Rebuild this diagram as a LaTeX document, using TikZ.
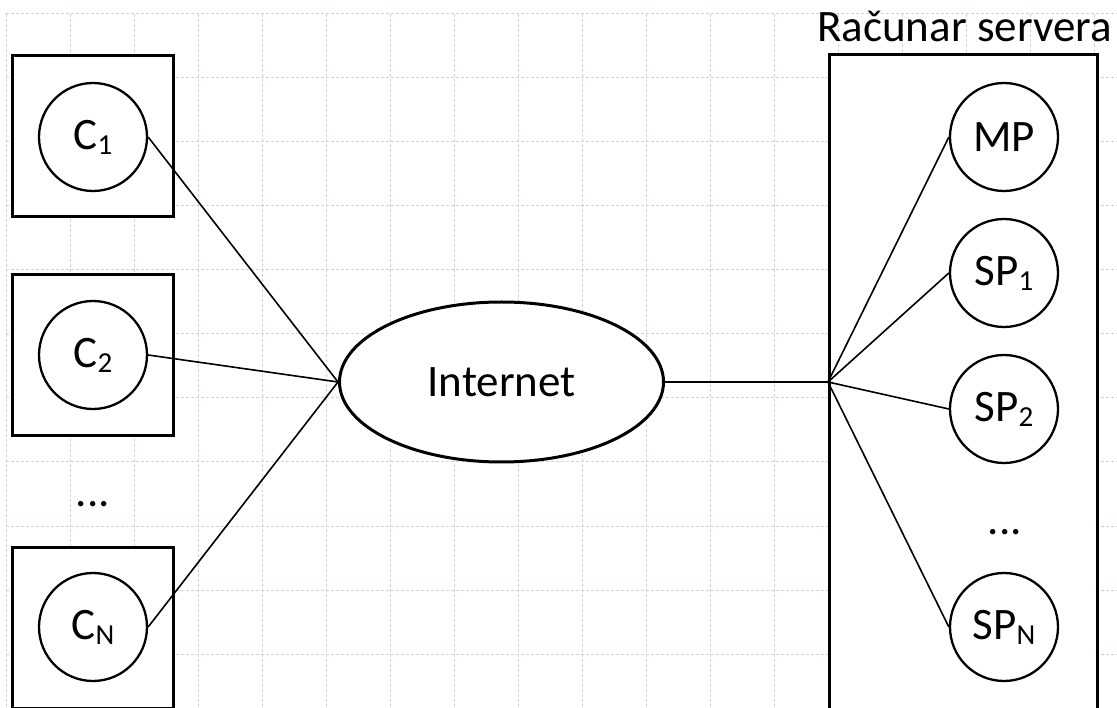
\documentclass[tikz,border=0pt]{standalone}
\usepackage{fontspec}
\setmainfont{Carlito}
\usetikzlibrary{shapes.geometric}
\definecolor{gridblue}{RGB}{197,211,246}
\newcommand{\sbs}[1]{\raisebox{-5pt}{\fontsize{29}{29}\selectfont #1}}
\begin{document}
\begin{tikzpicture}[x=1pt,y=-1pt,
  gridline/.style={draw=gridblue, line width=1pt, dash pattern=on 3pt off 2pt},
  hostbox/.style={draw, rectangle, line width=3pt, fill=white, inner sep=0pt, minimum width=161pt, minimum height=161pt},
  srvbox/.style={draw, rectangle, line width=3pt, fill=white, inner sep=0pt, minimum width=268pt, minimum height=654pt},
  txt/.style={font=\fontsize{45}{54}\selectfont, inner sep=0pt},
  proc/.style={draw, circle, line width=2.3pt, fill=white, minimum size=108pt, inner sep=0pt, font=\fontsize{45}{54}\selectfont},
  cloud/.style={draw, ellipse, line width=3pt, fill=white, minimum width=324pt, minimum height=160pt, inner sep=0pt, font=\fontsize{45}{54}\selectfont},
  link/.style={line width=1.6pt}]
\useasboundingbox (0,0) rectangle (1117,708);
\clip (0,0) rectangle (1117,708);
% background grid
\foreach \i in {0,...,17} \draw[gridline] (6+64*\i,14) -- (6+64*\i,708);
\foreach \j in {0,...,10} \draw[gridline] (6,14+64*\j) -- (1117,14+64*\j);
% host boxes
\node[hostbox] (b1) at (93,136.5) {};
\node[hostbox] (b2) at (93,355) {};
\node[hostbox] (bN) at (93,628) {};
\node[srvbox] (srv) at (963.5,382) {};
\node[txt, anchor=base] (title) at (964.5,42) {Računar servera};
% processes
\node[proc] (c1) at (93,137) {C\sbs{1}};
\node[proc] (c2) at (93,355) {C\sbs{2}};
\node[proc] (cN) at (93,627) {C\sbs{N}};
\node[txt, anchor=base] (cdots) at (93,506) {...};
\node[cloud] (inet) at (501.5,382) {Internet};
\node[proc] (mp) at (1004,137) {MP};
\node[proc] (sp1) at (1004,273) {SP\sbs{1}};
\node[proc] (sp2) at (1004,409) {SP\sbs{2}};
\node[txt, anchor=base] (sdots) at (1005,534) {...};
\node[proc] (spN) at (1004,627) {SP\sbs{N}};
% connectors
\draw[link] (c1.east) -- (inet.west);
\draw[link] (c2.east) -- (inet.west);
\draw[link] (cN.east) -- (inet.west);
\draw[link] (inet.east) -- (srv.west);
\draw[link] (srv.west) -- (mp.west);
\draw[link] (srv.west) -- (sp1.west);
\draw[link] (srv.west) -- (sp2.west);
\draw[link] (srv.west) -- (spN.west);
\end{tikzpicture}
\end{document}
